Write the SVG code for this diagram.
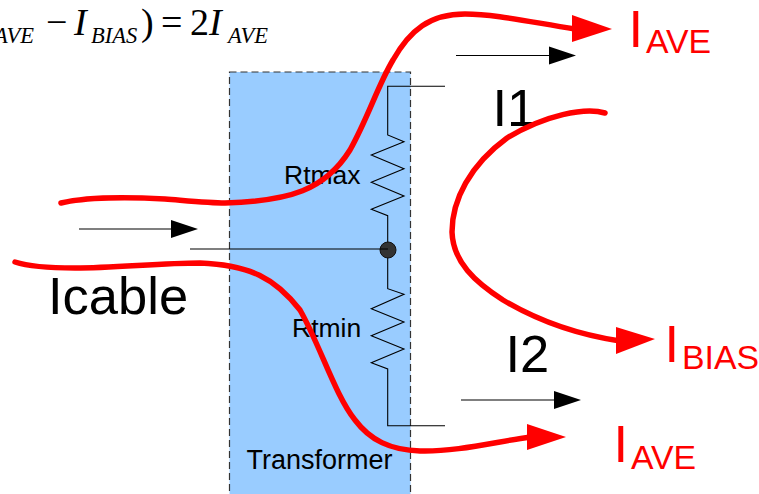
<svg xmlns="http://www.w3.org/2000/svg" width="759" height="494" viewBox="0 0 759 494">
<style>
text{font-family:"Liberation Sans",Arial,sans-serif}
.f{font-family:"Liberation Serif","Times New Roman",serif;fill:#000;font-size:38px}
.fi{font-style:italic}
.fs{font-size:22.5px}
.lg{font-size:52.5px;fill:#000}
.md{font-size:26.5px;fill:#000}
.rb{font-size:52.5px;fill:#f00}
.rs{font-size:33.8px;fill:#f00}
.w{fill:none;stroke:#000;stroke-width:1.1}
.r{fill:none;stroke:#f00;stroke-width:5.5;stroke-linecap:round}
.ar{fill:#f00}
.ab{fill:#000}
</style>
<rect width="759" height="494" fill="#fff"/>
<g id="formula">
<text class="f fi fs" x="-6" y="43">AVE</text>
<text class="f" x="46" y="35">−</text>
<text class="f fi" x="74" y="35">I</text>
<text class="f fi fs" x="91" y="43">BIAS</text>
<text class="f" x="141" y="35">)</text>
<text class="f" x="161" y="35">=</text>
<text class="f" x="190" y="35">2</text>
<text class="f fi" x="209" y="35">I</text>
<text class="f fi fs" x="228" y="43">AVE</text>
</g>
<g id="transformer">
<rect x="229.5" y="72" width="181" height="430" fill="#99ccff" stroke="#333" stroke-width="1.2" stroke-dasharray="7 4"/>
<text class="md" x="246.500" y="468.500" style="font-size:27px">Transformer</text>
</g>
<g id="rtmax">
<polyline class="w" points="445,86.3 387.7,86.3 387.7,135 404,141.7 371.3,155 404,168.7 371.3,182.3 404,196 371.3,209.3 387.7,215.7 387.7,250"/>
<text class="md" x="284" y="184">Rtmax</text>
</g>
<g id="rtmin">
<polyline class="w" points="387.7,250 387.7,288.7 404,294.3 371.3,308.7 404,322 371.3,335.7 404,349 371.3,362.7 387.7,369 387.7,425.7 445,425.7"/>
<text class="md" x="292" y="337">Rtmin</text>
</g>
<g id="junction">
<circle cx="388" cy="250" r="8" fill="#333" stroke="#111" stroke-width="1"/>
</g>
<g id="labels">
<text class="lg" x="48" y="314">Icable</text>
<text class="lg" x="492.500" y="126">I1</text>
<text class="lg" x="505.500" y="372">I2</text>
<text class="rb" x="628.500" y="47">I</text><text class="rs" x="646" y="53">AVE</text>
<text class="rb" x="664.500" y="362">I</text><text class="rs" x="682" y="369">BIAS</text>
<text class="rb" x="613.500" y="462">I</text><text class="rs" x="631" y="469">AVE</text>
</g>
<g id="connectors">
<line class="w" x1="190" y1="249" x2="388" y2="249"/>
<line class="w" x1="79" y1="229" x2="175" y2="229"/><polygon class="ab" points="171,220 198,229 171,238"/>
<line class="w" x1="456" y1="55.5" x2="553" y2="55.5"/><polygon class="ab" points="549,46.500 576,55.500 549,64.500"/>
<line class="w" x1="461" y1="400" x2="558" y2="400"/><polygon class="ab" points="554,391 581,400 554,409"/>
<path class="r" d="M61,203 C85,197 130,197 165,199 C190,201 210,203 225,203 C290,201 325,190 350,150 C368,118 378,85 393,60 C410,30 430,14 465,14 C495,14 530,22 575,29"/>
<polygon class="ar" points="572,15 612,29 572,42"/>
<path class="r" d="M15,262 C30,267 50,268 75,268 C115,268 160,263 200,263 C250,265 275,278 300,310 C320,345 335,395 355,420 C370,440 390,450 420,451 C455,452 495,442 530,437"/>
<polygon class="ar" points="527,424 566,437 527,450"/>
<path class="r" d="M605,113 C585,107 545,115 507,138 C470,165 452,200 452,232 C453,262 475,282 503,300 C540,322 580,335 620,341"/>
<polygon class="ar" points="616,327 655,339 616,354"/>
</g>
</svg>
